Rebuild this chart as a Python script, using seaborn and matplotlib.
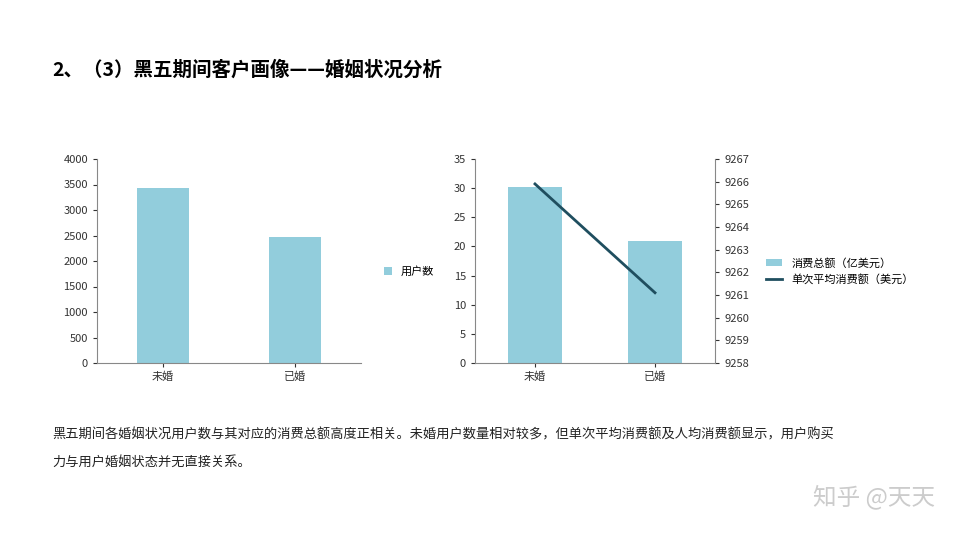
import matplotlib
matplotlib.use("Agg")
import matplotlib.pyplot as plt
from matplotlib import font_manager as fm
import seaborn as sns
import pandas as pd

fam = "Noto Sans CJK SC"
for f in fm.findSystemFonts():
    if "CJK" in f or "cjk" in f.lower():
        try:
            fm.fontManager.addfont(f)
        except Exception:
            pass
names = {e.name for e in fm.fontManager.ttflist}
for cand in ["Noto Sans CJK SC", "Noto Sans CJK JP", "Noto Sans CJK TC", "Noto Sans CJK KR"]:
    if cand in names:
        fam = cand
        break
plt.rcParams["font.family"] = [fam, "DejaVu Sans"]

categories = ["未婚", "已婚"]
users = [3430, 2470]
spend_total = [30.2, 20.9]
avg_spend = [9265.9, 9261.1]

bar_color = "#92CDDC"
line_color = "#1F4E5F"

fig = plt.figure(figsize=(9.6, 5.4), dpi=100)
fig.text(52/960, 1-70/540, "2、（3）黑五期间客户画像——婚姻状况分析", fontsize=14, fontweight="bold", va="center")

def style(ax):
    for s in ["top", "right"]:
        ax.spines[s].set_visible(False)
    ax.spines["left"].set_color("#888888")
    ax.spines["bottom"].set_color("#888888")
    ax.tick_params(labelsize=8, colors="#333333", length=3)
    ax.set_xlabel(""); ax.set_ylabel("")

df = pd.DataFrame({"cat": categories, "users": users, "spend": spend_total, "avg": avg_spend})

ax1 = fig.add_axes([97/960, 177/540, 264/960, 204/540])
sns.barplot(data=df, x="cat", y="users", color=bar_color, saturation=1, width=0.4, ax=ax1, label="用户数")
ax1.set_ylim(0, 4000)
ax1.set_yticks(range(0, 4001, 500))
ax1.set_xlim(-0.5, 1.5)
style(ax1)
ax1.legend(loc="center left", bbox_to_anchor=(1.05, 0.45), frameon=False, fontsize=8, handlelength=0.7)

ax2 = fig.add_axes([475/960, 177/540, 240/960, 204/540])
sns.barplot(data=df, x="cat", y="spend", color=bar_color, saturation=1, width=0.45, ax=ax2, label="消费总额（亿美元）")
ax2.set_ylim(0, 35)
ax2.set_yticks(range(0, 36, 5))
style(ax2)
if ax2.get_legend() is not None:
    ax2.get_legend().remove()
ax3 = ax2.twinx()
sns.lineplot(x=[0, 1], y=avg_spend, color=line_color, linewidth=2, ax=ax3, label="单次平均消费额（美元）")
ax3.set_ylim(9258, 9267)
ax3.set_yticks(range(9258, 9268))
ax2.set_xlim(-0.5, 1.5)
for s in ["top", "left", "bottom"]:
    ax3.spines[s].set_visible(False)
ax3.spines["right"].set_color("#888888")
ax3.tick_params(labelsize=8, colors="#333333", length=3)
ax3.set_ylabel("")
if ax3.get_legend() is not None:
    ax3.get_legend().remove()
h1, l1 = ax2.get_legend_handles_labels()
h2, l2 = ax3.get_legend_handles_labels()
ax3.legend(h1 + h2, l1 + l2, loc="center left", bbox_to_anchor=(1.17, 0.45), frameon=False, fontsize=8, handlelength=1.5)

fig.text(52/960, 1-435/540, "黑五期间各婚姻状况用户数与其对应的消费总额高度正相关。未婚用户数量相对较多，但单次平均消费额及人均消费额显示，用户购买", fontsize=9.5, va="center", color="#222222")
fig.text(52/960, 1-462/540, "力与用户婚姻状态并无直接关系。", fontsize=9.5, va="center", color="#222222")
fig.text(935/960, 1-497/540, "知乎 @天天", fontsize=17, ha="right", va="center", color="#cccccc")

fig.savefig("out.png", dpi=100)
